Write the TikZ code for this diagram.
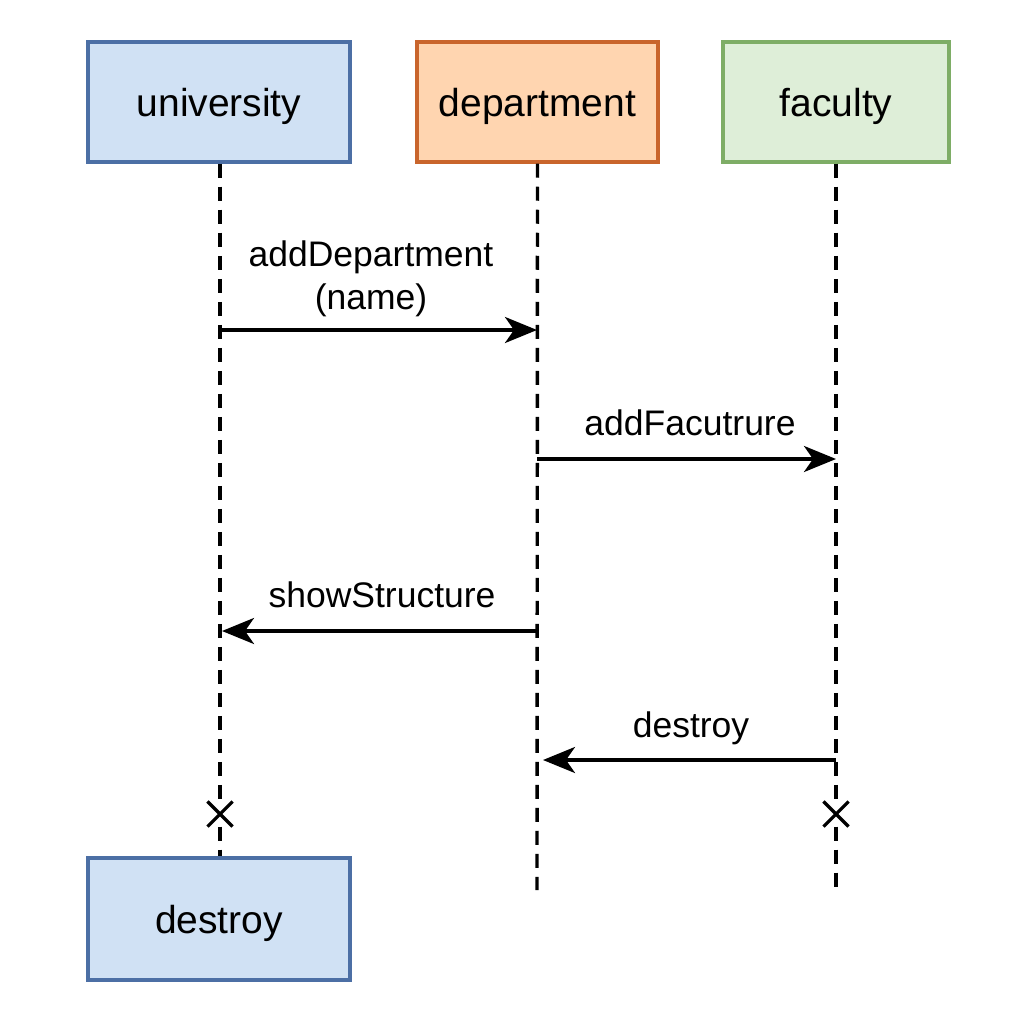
\documentclass[tikz,border=0pt]{standalone}
\usepackage{fontspec}
\setmainfont{Liberation Sans}
\usetikzlibrary{arrows.meta,shapes.misc}
\definecolor{uniF}{HTML}{D0E1F4}
\definecolor{uniD}{HTML}{4C6FA5}
\definecolor{depF}{HTML}{FFD5B0}
\definecolor{depD}{HTML}{C9652C}
\definecolor{facF}{HTML}{DEEED8}
\definecolor{facD}{HTML}{7EAD66}
\begin{document}
\begin{tikzpicture}[x=1pt,y=-1pt,
  objbox/.style={rectangle,draw,line width=3.5pt,inner sep=0pt,text depth=0pt,font=\fontsize{39}{44}\selectfont},
  lifeline/.style={line width=3.4pt,dash pattern=on 14pt off 9pt},
  msg/.style={line width=3.6pt,-{Stealth[length=32pt,width=26pt,inset=9pt]}},
  lbl/.style={font=\fontsize{35.5}{43}\selectfont,align=center,inner sep=0pt},
  endmark/.style={cross out,draw,line width=3.2pt,minimum size=22pt,inner sep=0pt}]
\useasboundingbox (0,0) rectangle (1024,1024);
\fill[white] (0,0) rectangle (1024,1024);
% objects
\node[objbox,fill=uniF,draw=uniD,minimum width=262pt,minimum height=120pt] (uni) at (219,102) {university};
\node[objbox,fill=depF,draw=depD,minimum width=241pt,minimum height=120pt] (dep) at (537.5,102) {department};
\node[objbox,fill=facF,draw=facD,minimum width=226pt,minimum height=120pt] (fac) at (836,102) {faculty};
\node[objbox,fill=uniF,draw=uniD,minimum width=262pt,minimum height=122pt] (des) at (219,919) {destroy};
% end marks
\node[endmark] (xu) at (220,814) {};
\node[endmark] (xf) at (836,814) {};
% lifelines
\coordinate (depEnd) at (537,890);
\coordinate (facEnd) at (836,890);
\draw[lifeline] (uni.south -| xu) -- (xu);
\draw[lifeline] (xu) -- (des.north -| xu);
\draw[lifeline] (dep.south) -- (depEnd);
\draw[lifeline] (fac.south) -- (xf);
\draw[lifeline] (xf) -- (facEnd);
% message anchors
\coordinate (m1s) at (220,330); \coordinate (m1e) at (537,330);
\coordinate (m2s) at (537,459); \coordinate (m2e) at (836,459);
\coordinate (m3s) at (537,631); \coordinate (m3e) at (222,631);
\coordinate (m4s) at (836,760); \coordinate (m4e) at (543,760);
\draw[msg] (m1s) -- (m1e);
\draw[msg] (m2s) -- (m2e);
\draw[msg] (m3s) -- (m3e);
\draw[msg] (m4s) -- (m4e);
% labels
\node[lbl] (l1) at (371,279) {addDepartment\\(name)};
\node[lbl] (l2) at (690,423) {addFacutrure};
\node[lbl] (l3) at (382,595) {showStructure};
\node[lbl] (l4) at (691,728) {destroy};
\end{tikzpicture}
\end{document}
